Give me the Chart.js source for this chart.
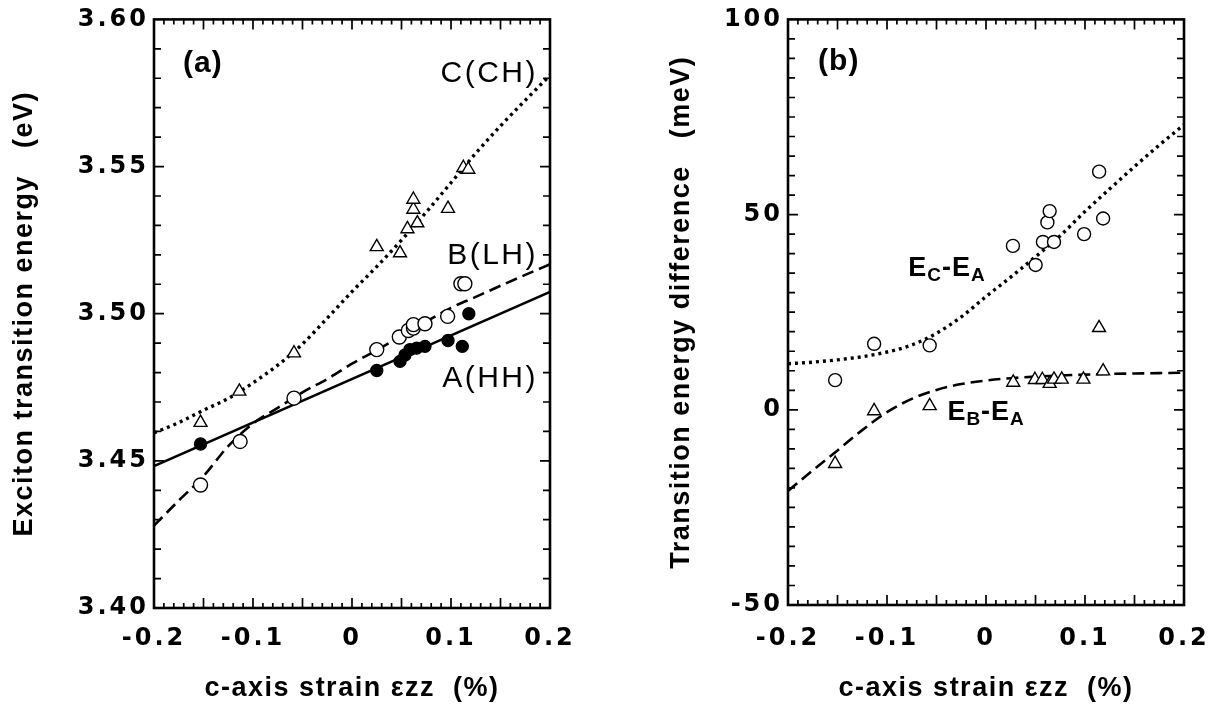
<!DOCTYPE html>
<html>
<head>
<meta charset="utf-8">
<title>Exciton transition energy vs c-axis strain</title>
<script src="https://cdn.jsdelivr.net/npm/chart.js@4.4.1/dist/chart.umd.min.js"></script>
<style>
  html, body { margin: 0; padding: 0; background: #fff; }
  #wrap { position: relative; width: 1225px; height: 713px; }
  canvas { position: absolute; top: 0; }
  #chartA { left: 0; }
  #chartB { left: 600px; }
</style>
</head>
<body>
<div id="wrap">
  <canvas id="chartA" width="600" height="713"></canvas>
  <canvas id="chartB" width="625" height="713"></canvas>
</div>
<script>
// ---- panel (a): exciton transition energy (eV) ----
const strainHH = [-0.153, 0.025, 0.0485, 0.0535, 0.0586, 0.0653, 0.0737, 0.097, 0.1114, 0.118];
const energyHH = [3.4557, 3.4807, 3.4838, 3.486, 3.4878, 3.4883, 3.4889, 3.4909, 3.4889, 3.500];

const strainLH = [-0.153, -0.113, -0.0586, 0.025, 0.0478, 0.0569, 0.062, 0.062, 0.0737, 0.0966, 0.110, 0.114];
const energyLH = [3.4418, 3.4566, 3.4713, 3.4878, 3.4921, 3.4943, 3.4951, 3.4963, 3.4966, 3.4991, 3.5102, 3.5102];

const strainCH = [-0.153, -0.1138, -0.0586, 0.025, 0.0485, 0.056, 0.062, 0.062, 0.066, 0.097, 0.1125, 0.1175];
const energyCH = [3.463, 3.4736, 3.4866, 3.5227, 3.5206, 3.5288, 3.5354, 3.5388, 3.5308, 3.5357, 3.5496, 3.549];

// calculated curves
const fitStrain = [-0.2, -0.175, -0.15, -0.125, -0.1, -0.075, -0.05, -0.025, 0, 0.025, 0.05, 0.075, 0.1, 0.125, 0.15, 0.175, 0.2];
const lineStrainHH = [-0.2, 0.2];
const lineEnergyHH = [3.4482, 3.5074];
const fitEnergyLH = [3.428, 3.4365, 3.4448, 3.455, 3.4627, 3.468, 3.4733, 3.4778, 3.483, 3.4876, 3.4925, 3.4973, 3.502, 3.5057, 3.5095, 3.5132, 3.5168];
const fitEnergyCH = [3.4595, 3.463, 3.4672, 3.4712, 3.4765, 3.4825, 3.4897, 3.4985, 3.5075, 3.516, 3.525, 3.5345, 3.5445, 3.5545, 3.5638, 3.5725, 3.581];

// ---- panel (b): transition energy difference (meV) ----
const strainCA = [-0.1524, -0.113, -0.0569, 0.0272, 0.0501, 0.0575, 0.062, 0.0643, 0.0687, 0.0991, 0.1143, 0.1183];
const diffCA = [7.6, 16.9, 16.5, 42.0, 37.1, 43.0, 48.0, 50.9, 43.0, 45.0, 61.0, 49.0];

const strainBA = [-0.1524, -0.113, -0.0569, 0.0275, 0.0494, 0.0569, 0.0643, 0.0687, 0.0765, 0.0984, 0.1142, 0.1183];
const diffBA = [-13.8, -0.3, 1.0, 7.0, 7.7, 7.7, 6.7, 7.8, 7.8, 7.8, 21.0, 9.9];

const fitDiffCA = [11.8, 12.2, 12.8, 13.6, 14.8, 16.6, 19.6, 23.8, 29.0, 34.0, 39.2, 44.6, 50.8, 56.6, 62.3, 67.8, 73.0];
const fitDiffBA = [-20.8, -15.5, -10.4, -5.2, -0.6, 2.8, 5.1, 6.6, 7.5, 8.1, 8.5, 8.8, 9.0, 9.2, 9.3, 9.4, 9.5];

// axis ticks / labels
const strainTicks = [-0.2, -0.1, 0, 0.1, 0.2];
const energyTicks = [3.40, 3.45, 3.50, 3.55, 3.60];
const diffTicks = [-50, 0, 50, 100];

const FONT = "'Liberation Sans', Arial, Helvetica, sans-serif";
const TICK_FONT = "'DejaVu Sans', 'Liberation Sans', sans-serif";
Chart.defaults.font.family = FONT;
Chart.defaults.color = "#000";

function pts(xs, ys) {
    return xs.map((x, i) => ({ x: x, y: ys[i] }));
}

function markers(xs, ys, style, radius, fill) {
    return {
        data: pts(xs, ys),
        showLine: false,
        pointStyle: style,
        pointRadius: radius,
        pointBackgroundColor: fill,
        pointBorderColor: "#000",
        pointBorderWidth: 1.4
    };
}

function curve(xs, ys, dash, width) {
    return {
        data: pts(xs, ys),
        showLine: true,
        pointRadius: 0,
        borderColor: "#000",
        borderWidth: width,
        borderDash: dash,
        cubicInterpolationMode: "monotone",
        fill: false
    };
}

// frame, inward tick marks, letter spacing and in-plot text
const framePlugin = {
    id: "frame",
    beforeDraw(chart) {
        chart.ctx.letterSpacing = "1.5px";
    },
    afterDatasetsDraw(chart, args, opts) {
        const ctx = chart.ctx, a = chart.chartArea;
        const xs = chart.scales.x, ys = chart.scales.y;
        ctx.save();
        ctx.strokeStyle = "#000";
        ctx.lineWidth = 1.7;
        ctx.beginPath();
        let n = Math.round((xs.max - xs.min) / opts.xStep);
        for (let i = 1; i < n; i++) {
            const px = xs.getPixelForValue(xs.min + i * opts.xStep);
            const len = i % opts.xEvery === 0 ? 10 : 5;
            ctx.moveTo(px, a.bottom); ctx.lineTo(px, a.bottom - len);
            ctx.moveTo(px, a.top); ctx.lineTo(px, a.top + len);
        }
        n = Math.round((ys.max - ys.min) / opts.yStep);
        for (let i = 1; i < n; i++) {
            const py = ys.getPixelForValue(ys.min + i * opts.yStep);
            const len = i % opts.yEvery === 0 ? 10 : 7;
            ctx.moveTo(a.left, py); ctx.lineTo(a.left + len, py);
            ctx.moveTo(a.right, py); ctx.lineTo(a.right - len, py);
        }
        ctx.stroke();
        ctx.lineWidth = 2.6;
        ctx.strokeRect(a.left, a.top, a.right - a.left, a.bottom - a.top);
        ctx.restore();
        // tick labels (ticks.z = 1) are drawn after this point
        ctx.letterSpacing = "3px";
    },
    afterDraw(chart, args, opts) {
        const ctx = chart.ctx;
        (opts.notes || []).forEach(note => {
            ctx.save();
            ctx.letterSpacing = (note.spacing || 1) + "px";
            ctx.fillStyle = "#000";
            ctx.textBaseline = "alphabetic";
            ctx.textAlign = "left";
            let total = 0;
            note.parts.forEach(p => {
                ctx.font = (p.weight || "bold") + " " + p.size + "px " + FONT;
                p.w = ctx.measureText(p.t).width;
                total += p.w;
            });
            let px = chart.scales.x.getPixelForValue(note.x);
            const py = chart.scales.y.getPixelForValue(note.y);
            if (note.align === "right") px -= total;
            note.parts.forEach(p => {
                ctx.font = (p.weight || "bold") + " " + p.size + "px " + FONT;
                ctx.fillText(p.t, px, py + (p.dy || 0));
                px += p.w;
            });
            ctx.restore();
        });
    }
};

function xAxis(pad) {
    return {
        type: "linear",
        min: -0.2,
        max: 0.2,
        afterBuildTicks: s => { s.ticks = strainTicks.map(v => ({ value: v })); },
        afterFit: s => { s.height = pad.height; },
        grid: { display: false, drawTicks: false },
        border: { display: false },
        ticks: {
            z: 1,
            padding: pad.tick,
            font: { family: TICK_FONT, size: 24, weight: "bold" },
            callback: v => (Math.abs(v) < 1e-9 ? "0" : v.toFixed(1))
        },
        title: {
            display: true,
            text: "c-axis strain εzz  (%)",
            font: { size: 27, weight: "bold" },
            padding: { top: 0, bottom: 8 }
        }
    };
}

function yAxis(cfg) {
    return {
        type: "linear",
        min: cfg.min,
        max: cfg.max,
        afterBuildTicks: s => { s.ticks = cfg.ticks.map(v => ({ value: v })); },
        afterFit: s => { s.width = cfg.width; },
        grid: { display: false, drawTicks: false },
        border: { display: false },
        ticks: {
            z: 1,
            padding: 5,
            font: { family: TICK_FONT, size: 24, weight: "bold" },
            callback: cfg.format
        },
        title: {
            display: true,
            text: cfg.title,
            font: { size: 27, weight: "bold" },
            padding: { top: cfg.titlePad, bottom: 0 }
        }
    };
}

const chartA = new Chart(document.getElementById("chartA"), {
    type: "scatter",
    data: {
        datasets: [
            markers(strainHH, energyHH, "circle", 6, "#000"),
            markers(strainLH, energyLH, "circle", 7, "#fff"),
            markers(strainCH, energyCH, "triangle", 7.5, "#fff"),
            curve(lineStrainHH, lineEnergyHH, [], 2.6),
            curve(fitStrain, fitEnergyLH, [12, 6], 2.6),
            curve(fitStrain, fitEnergyCH, [3, 4], 3.4)
        ]
    },
    options: {
        responsive: false,
        animation: false,
        events: [],
        layout: { padding: { left: 0, right: 50, top: 19, bottom: 0 } },
        plugins: {
            legend: { display: false },
            tooltip: { enabled: false },
            frame: {
                xStep: 0.01, xEvery: 5, yStep: 0.01, yEvery: 5,
                notes: [
                    { x: -0.1707, y: 3.5821, parts: [{ t: "(a)", size: 30 }] },
                    { x: 0.1879, y: 3.5786, align: "right", spacing: 2.5, parts: [{ t: "C(CH)", size: 30, weight: "normal" }] },
                    { x: 0.1879, y: 3.5170, align: "right", spacing: 2.5, parts: [{ t: "B(LH)", size: 30, weight: "normal" }] },
                    { x: 0.1879, y: 3.4752, align: "right", spacing: 2.5, parts: [{ t: "A(HH)", size: 30, weight: "normal" }] }
                ]
            }
        },
        scales: {
            x: xAxis({ height: 105, tick: 16 }),
            y: yAxis({
                min: 3.4, max: 3.6, ticks: energyTicks, width: 154, titlePad: 8,
                title: "Exciton transition energy   (eV)",
                format: v => v.toFixed(2)
            })
        }
    },
    plugins: [framePlugin]
});

const chartB = new Chart(document.getElementById("chartB"), {
    type: "scatter",
    data: {
        datasets: [
            markers(strainCA, diffCA, "circle", 6.5, "#fff"),
            markers(strainBA, diffBA, "triangle", 7.5, "#fff"),
            curve(fitStrain, fitDiffCA, [3, 4], 3.4),
            curve(fitStrain, fitDiffBA, [12, 6], 2.6)
        ]
    },
    options: {
        responsive: false,
        animation: false,
        events: [],
        layout: { padding: { left: 0, right: 41, top: 15, bottom: 0 } },
        plugins: {
            legend: { display: false },
            tooltip: { enabled: false },
            frame: {
                xStep: 0.01, xEvery: 5, yStep: 5, yEvery: 10,
                notes: [
                    { x: -0.1696, y: 87.0, parts: [{ t: "(b)", size: 30 }] },
                    { x: -0.0785, y: 34.4, parts: [
                        { t: "E", size: 27 }, { t: "C", size: 19, dy: 5 }, { t: "-", size: 27 },
                        { t: "E", size: 27 }, { t: "A", size: 19, dy: 5 }] },
                    { x: -0.039, y: -2.5, parts: [
                        { t: "E", size: 27 }, { t: "B", size: 19, dy: 5 }, { t: "-", size: 27 },
                        { t: "E", size: 27 }, { t: "A", size: 19, dy: 5 }] }
                ]
            }
        },
        scales: {
            x: xAxis({ height: 108, tick: 19 }),
            y: yAxis({
                min: -50, max: 100, ticks: diffTicks, width: 188, titlePad: 65,
                title: "Transition energy difference   (meV)",
                format: v => String(Math.round(v))
            })
        }
    },
    plugins: [framePlugin]
});
</script>
</body>
</html>
